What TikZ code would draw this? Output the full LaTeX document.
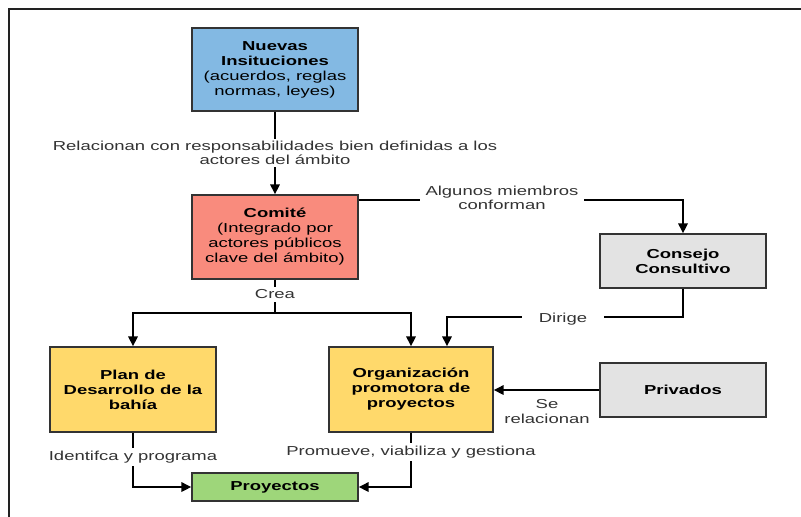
\documentclass[tikz,border=0pt]{standalone}
\usepackage{fontspec}
\setmainfont[FakeStretch=1.42]{Liberation Sans}
\usetikzlibrary{arrows.meta}
\definecolor{instblue}{HTML}{83B9E3}
\definecolor{comitered}{HTML}{F98B7D}
\definecolor{planyellow}{HTML}{FFD96B}
\definecolor{consgray}{HTML}{E3E3E3}
\definecolor{proygreen}{HTML}{9ED67A}
\definecolor{boxline}{HTML}{333333}
\definecolor{labelgray}{HTML}{333333}
\definecolor{framegray}{HTML}{222222}
\begin{document}
\begin{tikzpicture}[x=1pt,y=-1pt,
  font=\fontsize{13}{15}\selectfont,
  box/.style={draw=boxline, line width=1.4pt, minimum width=166pt,
              align=center, inner sep=0pt, text=black},
  tag/.style={fill=white, text=labelgray, align=center, inner sep=1.5pt,
              font=\fontsize{13}{14.5}\selectfont},
  plaintag/.style={text=labelgray, align=center, inner sep=0pt,
              font=\fontsize{13}{14.5}\selectfont},
  wire/.style={line width=1.7pt, draw=black},
  link/.style={wire, -{Triangle[length=10pt,width=9.5pt]}}]
\useasboundingbox (0,0) rectangle (801,517);

% outer frame edges
\draw[line width=2pt, framegray] (9,517) -- (9,9) -- (801,9);

% boxes
\node[box, fill=instblue, minimum height=83pt] (nuevas) at (275,69.5)
  {\textbf{Nuevas}\\\textbf{Insituciones}\\(acuerdos, reglas\\normas, leyes)};
\node[box, fill=comitered, minimum height=84pt] (comite) at (275,237)
  {\textbf{Comité}\\(Integrado por\\actores públicos\\clave del ámbito)};
\node[box, fill=consgray, minimum height=54pt] (consejo) at (683,261)
  {\textbf{Consejo}\\\textbf{Consultivo}};
\node[box, fill=planyellow, minimum height=85pt] (plan) at (133,389.5)
  {\textbf{Plan de}\\\textbf{Desarrollo de la}\\\textbf{bahía}};
\node[box, fill=planyellow, minimum height=85pt, minimum width=164pt] (org) at (411,389.5)
  {\textbf{Organización}\\\textbf{promotora de}\\\textbf{proyectos}};
\node[box, fill=consgray, minimum height=54pt] (privados) at (683,390)
  {\textbf{Privados}};
\node[box, fill=proygreen, minimum height=28pt] (proyectos) at (275,487)
  {\textbf{Proyectos}};

% junction points
\coordinate (split) at (275,313);
\coordinate (consTurn) at (683,200);
\coordinate (dirTurn) at (683,317);
\coordinate (dirEnd) at (447,317);
\coordinate (planTurn) at (133,487);
\coordinate (orgTurn) at (411,487);

% connectors
\draw[link] (nuevas.south) -- (comite.north);
\draw[link] (comite.east |- consTurn) -- (consTurn) -- (consejo.north);
\draw[wire] (comite.south) -- (split);
\draw[link] (split) -| (plan.north);
\draw[link] (split) -| (org.north);
\draw[link] (consejo.south) -- (dirTurn) -- (dirEnd) -- (dirEnd |- org.north);
\draw[link] (privados.west) -- (privados.west -| org.east);
\draw[link] (plan.south) -- (planTurn) -- (proyectos.west);
\draw[link] (org.south) -- (orgTurn) -- (proyectos.east);

% connector labels
\node[tag] (lRel) at (275,153)
  {Relacionan con responsabilidades bien definidas a los\\actores del ámbito};
\node[tag, inner xsep=6pt] (lAlg) at (502,198) {Algunos miembros\\conforman};
\node[tag, inner ysep=3pt] (lCrea) at (275,294.5) {Crea};
\node[tag, inner xsep=17pt] (lDir) at (563,319.5) {Dirige};
\node[plaintag] (lSe) at (547,411.5) {Se\\relacionan};
\node[tag, inner ysep=3pt] (lIde) at (133,457) {Identifca y programa};
\node[tag, inner ysep=3pt] (lPro) at (411,452) {Promueve, viabiliza y gestiona};
\end{tikzpicture}
\end{document}
